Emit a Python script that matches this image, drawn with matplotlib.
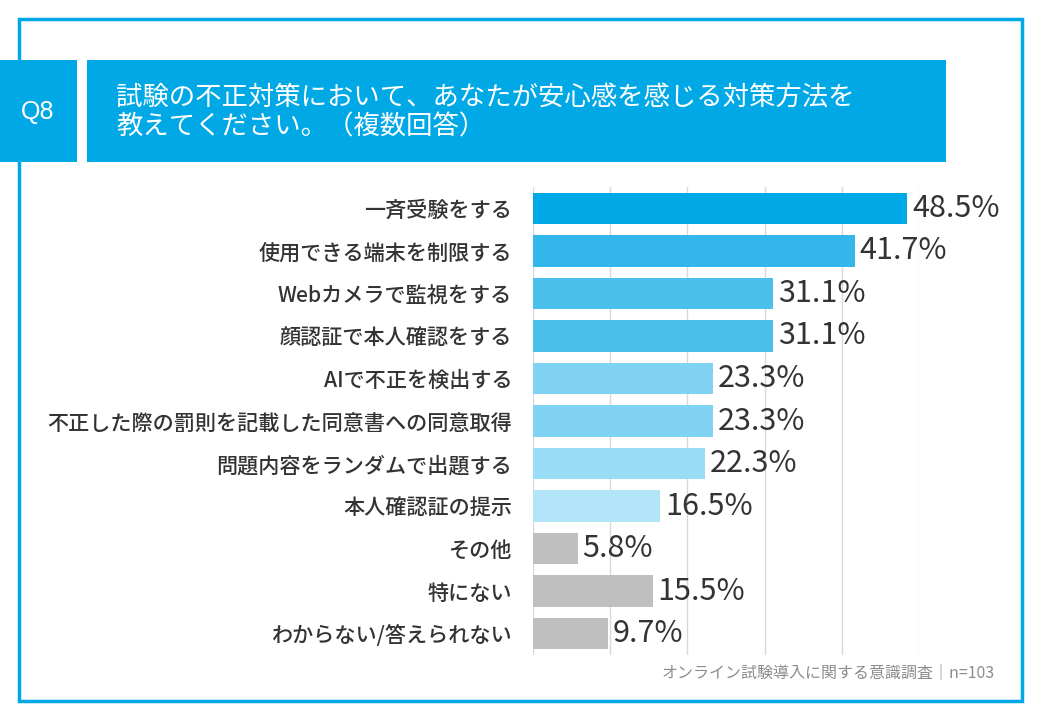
import matplotlib.pyplot as plt
from matplotlib.patches import Rectangle
import numpy as np

plt.rcParams['font.family'] = ['Noto Sans CJK JP', 'DejaVu Sans']

labels = ["一斉受験をする", "使用できる端末を制限する", "Webカメラで監視をする",
          "顔認証で本人確認をする", "AIで不正を検出する",
          "不正した際の罰則を記載した同意書への同意取得",
          "問題内容をランダムで出題する", "本人確認証の提示",
          "その他", "特にない", "わからない/答えられない"]
values = [48.5, 41.7, 31.1, 31.1, 23.3, 23.3, 22.3, 16.5, 5.8, 15.5, 9.7]
colors = ["#00A8E6", "#33B7EA", "#4CC0EC", "#4CC0EC", "#80D3F2", "#80D3F2",
          "#99DCF5", "#B3E5F8", "#BFBFBF", "#BFBFBF", "#BFBFBF"]

title = "試験の不正対策において、あなたが安心感を感じる対策方法を\n教えてください。（複数回答）"
source = "オンライン試験導入に関する意識調査｜n=103"

W, H = 1040, 720
fig = plt.figure(figsize=(W / 100, H / 100), dpi=100)
blue = "#00A8E6"

# outer frame
fig.patches.append(Rectangle((19 / W, 1 - 701 / H), (1022 - 19) / W, (701 - 19) / H,
                             transform=fig.transFigure, fill=False, ec=blue, lw=2.5))
# header boxes
fig.patches.append(Rectangle((0, 1 - 162 / H), 77 / W, 102 / H,
                             transform=fig.transFigure, fc=blue, ec="none"))
fig.patches.append(Rectangle((87 / W, 1 - 162 / H), (946 - 87) / W, 102 / H,
                             transform=fig.transFigure, fc=blue, ec="none"))
fig.text(38 / W, 1 - 112 / H, "Q8", color="white", fontsize=18, ha="center", va="center",
         family=["Liberation Sans", "DejaVu Sans"])
fig.text(116 / W, 1 - 112 / H, title, color="white", fontsize=19, ha="left", va="center",
         linespacing=1.1)

# chart axes
top, bottom = 187, 655
ax = fig.add_axes([533 / W, 1 - bottom / H, (919 - 533) / W, (bottom - top) / H])
y = np.arange(len(labels))
ax.barh(y, values, height=0.74, color=colors, zorder=2)
ax.set_ylim(len(labels) - 0.5, -0.5)
ax.set_xlim(0, 50)
ax.set_xticks(np.arange(0, 51, 10))
ax.grid(axis="x", color="#D9D9D9", lw=1, zorder=0)
for s in ax.spines.values():
    s.set_visible(False)
ax.tick_params(axis="x", length=0, labelbottom=False)
ax.tick_params(axis="y", length=0, pad=15)
ax.set_yticks(y)
ax.set_yticklabels(labels, fontsize=15.2, color="#333333", fontweight="medium")
for yi, v in zip(y, values):
    ax.text(v + 0.6, yi, f"{v:.1f}%", va="center", ha="left", fontsize=22,
            color="#333333", clip_on=False)

fig.text(995 / W, 1 - 673 / H, source, fontsize=11.5, color="#8C8C8C", ha="right", va="center")

fig.savefig("out.png", dpi=100)
